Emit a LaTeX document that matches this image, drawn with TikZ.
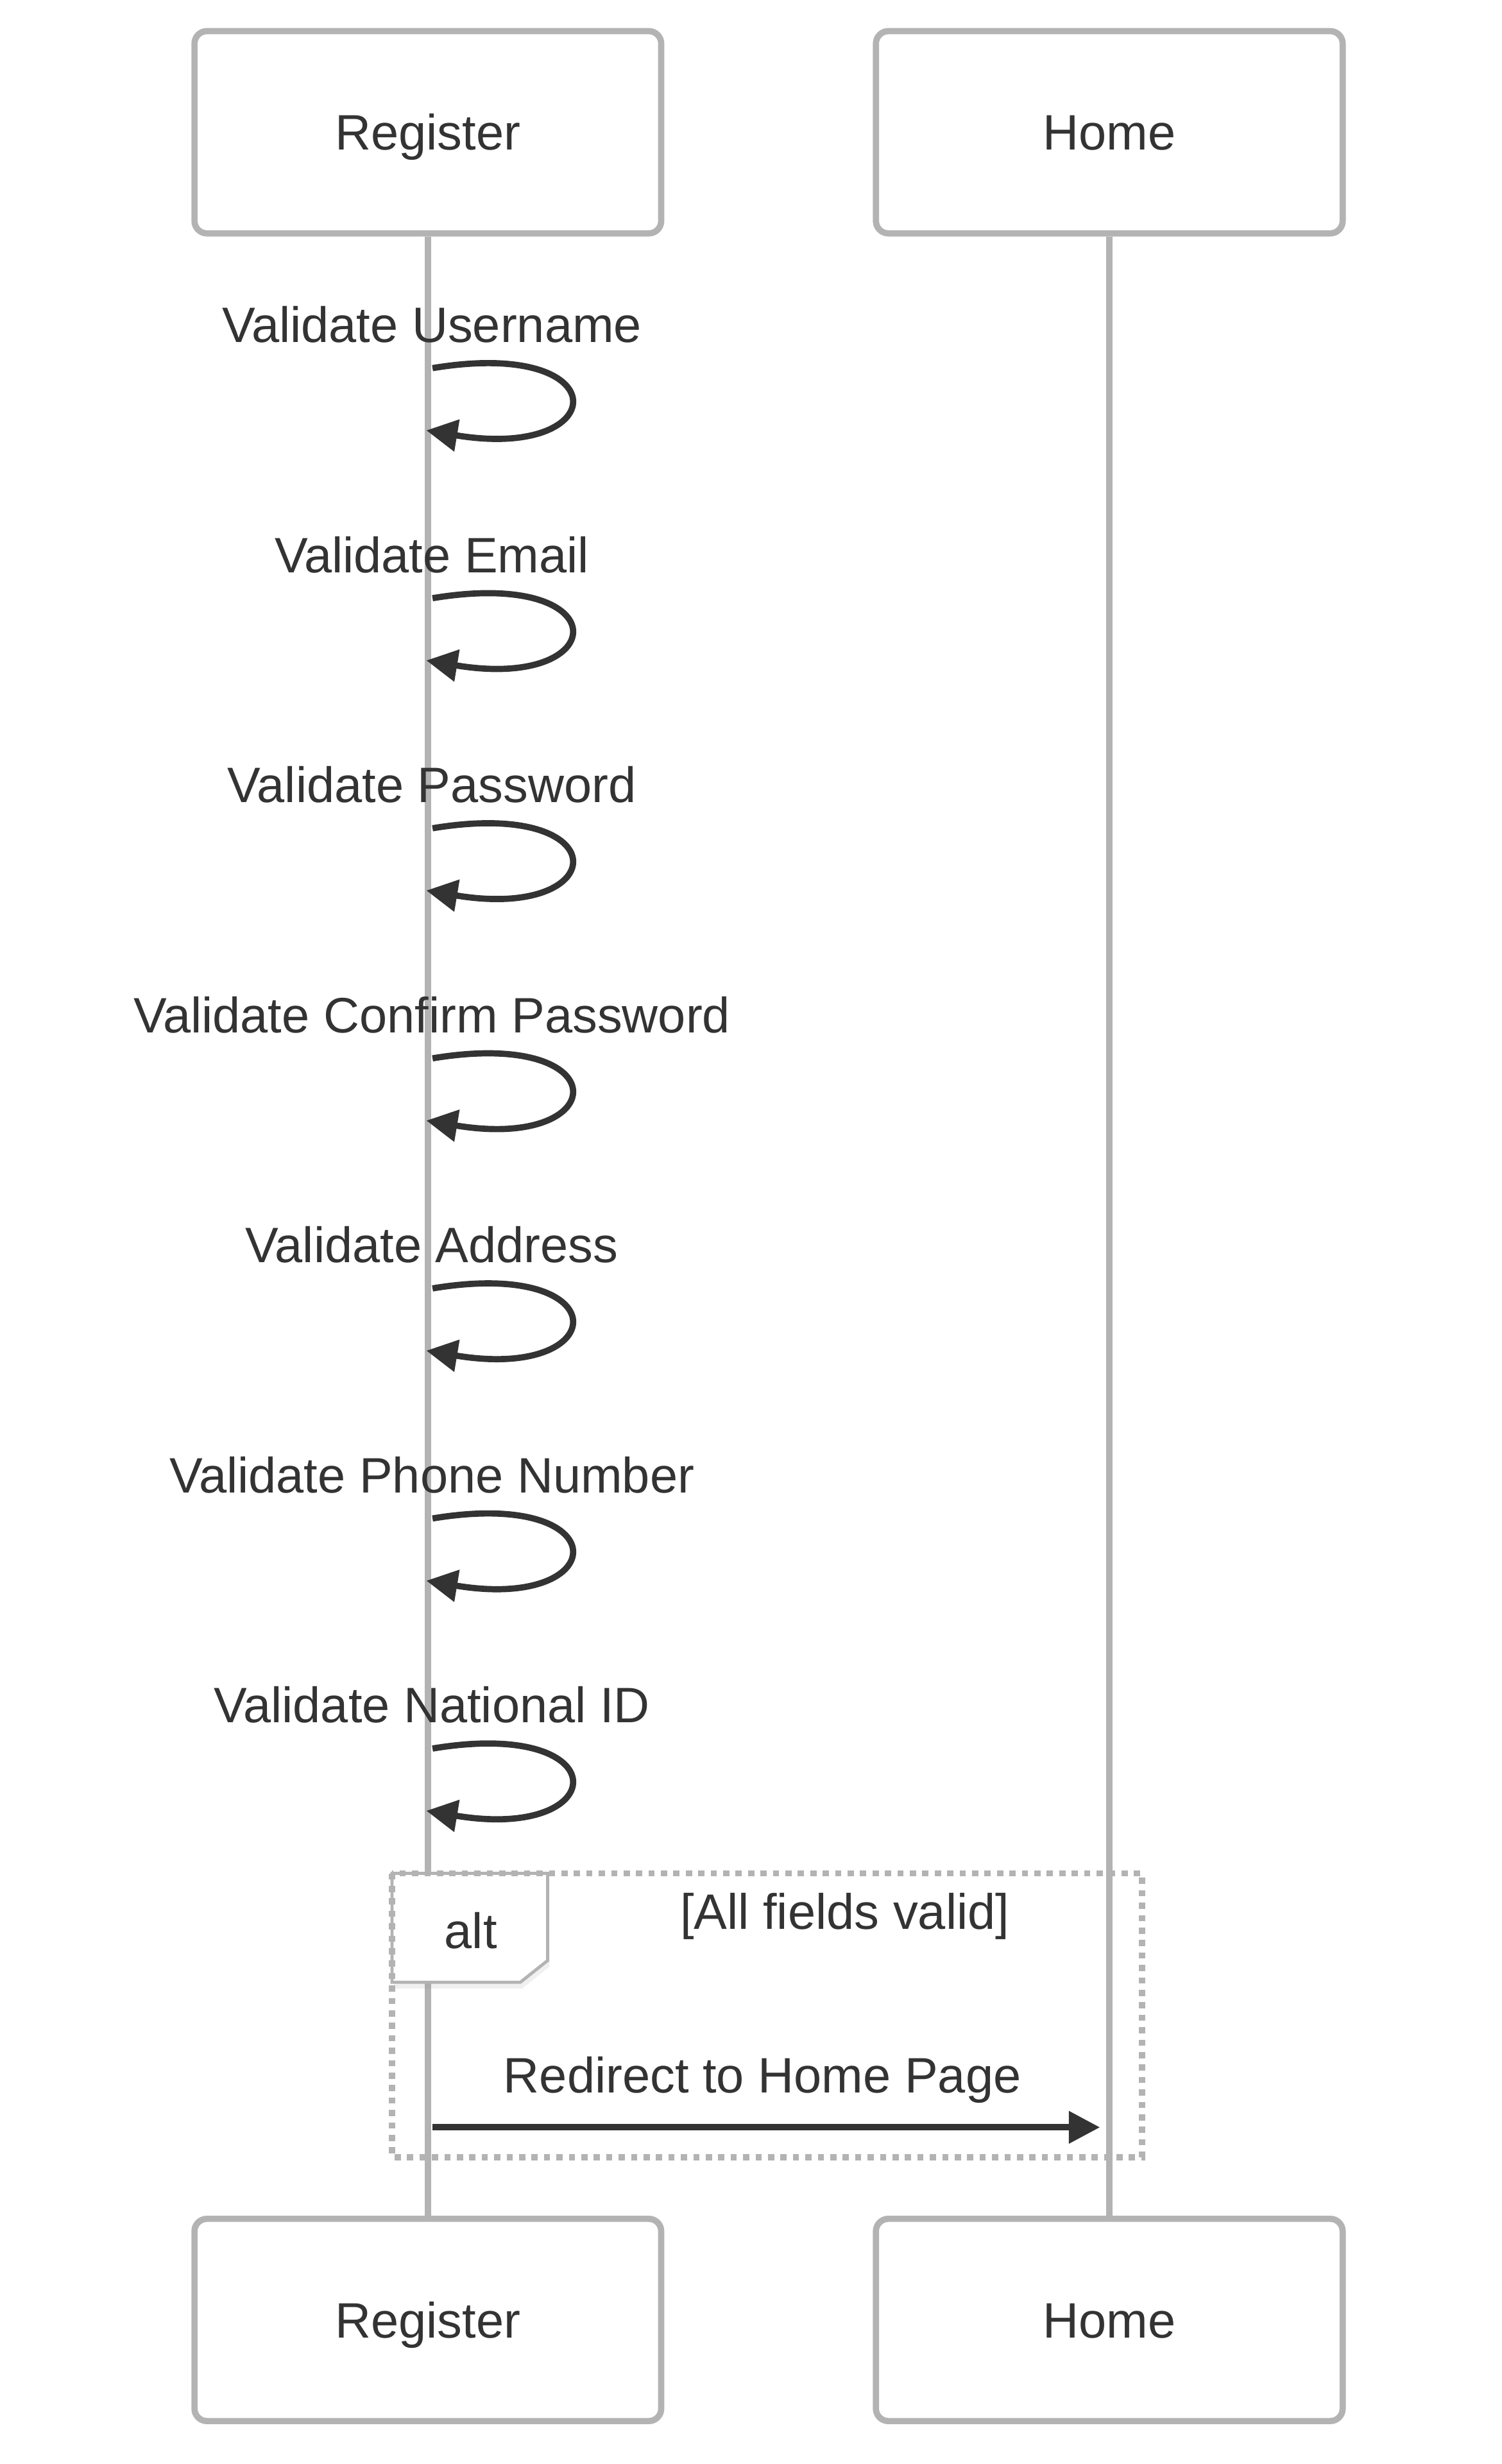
\documentclass[tikz,border=0pt]{standalone}
\usepackage{fontspec}
\setmainfont{Liberation Sans}
\usepackage{xcolor}
\usetikzlibrary{arrows.meta, positioning, calc, shadows}

\definecolor{linegrey}{HTML}{B3B3B3}
\definecolor{inkgrey}{HTML}{333333}

\begin{document}
\begin{tikzpicture}[x=1pt, y=-1pt,
    actor/.style={draw=linegrey, line width=2pt, fill=white, rounded corners=4pt,
      minimum width=150pt, minimum height=65pt, inner sep=0pt,
      text height=11.5pt, text depth=0pt, font=\fontsize{16}{19}\selectfont, text=inkgrey},
    msgtext/.style={anchor=base, inner sep=0pt, font=\fontsize{16}{19}\selectfont, text=inkgrey},
    lifeline/.style={draw=linegrey, line width=2pt},
    msg/.style={draw=inkgrey, line width=2pt, -{Triangle[length=10pt, width=10pt]}},
    altframe/.style={draw=linegrey, line width=2pt, dash pattern=on 2pt off 2pt},
    altlabel/.style={draw=linegrey, line width=1pt, fill=white,
      drop shadow={opacity=0.12, shadow xshift=0.6pt, shadow yshift=-2pt}}]
      \useasboundingbox (0,0) rectangle (482.5,791.8);

      % actors, top and bottom
      \node[actor] (regtop) at (137.5,42.5) {Register};
      \node[actor] (hometop) at (356.5,42.5) {Home};
      \node[actor] (regbot) at (137.5,745.5) {Register};
      \node[actor] (homebot) at (356.5,745.5) {Home};

      \draw[lifeline] (regtop) -- (regbot);
      \draw[lifeline] (hometop) -- (homebot);

      % self checks on Register
      \foreach \lbl [count=\i from 0] in {Validate Username, Validate Email, Validate Password,
          Validate Confirm Password, Validate Address, Validate Phone Number, Validate National ID} {
        \pgfmathsetmacro{\yb}{110+73.93*\i}
        \node[msgtext] (val\i) at (138.8,\yb) {\lbl};
        \coordinate (ls\i) at (139,\yb+8.3);
        \coordinate (le\i) at (137,\yb+28.3);
        \draw[msg] (ls\i) .. controls +(60,-10) and +(60,10) .. (le\i);
      }

      % alt block
      \draw[altlabel] (126,602) -- (176,602) -- (176,630) -- (167.2,637) -- (126,637) -- cycle;
      \draw[altframe] (126,602) rectangle (367,693.2);
      \node[msgtext] (altname) at (151.3,626.1) {alt};
      \node[msgtext] (altcond) at (271.5,620) {[All fields valid]};

      \coordinate (rs) at (139,683.6);
      \coordinate (re) at (353.5,683.6);
      \node[msgtext] (redir) at (245,672.5) {Redirect to Home Page};
      \draw[msg] (rs) -- (re);
    \end{tikzpicture}
\end{document}
